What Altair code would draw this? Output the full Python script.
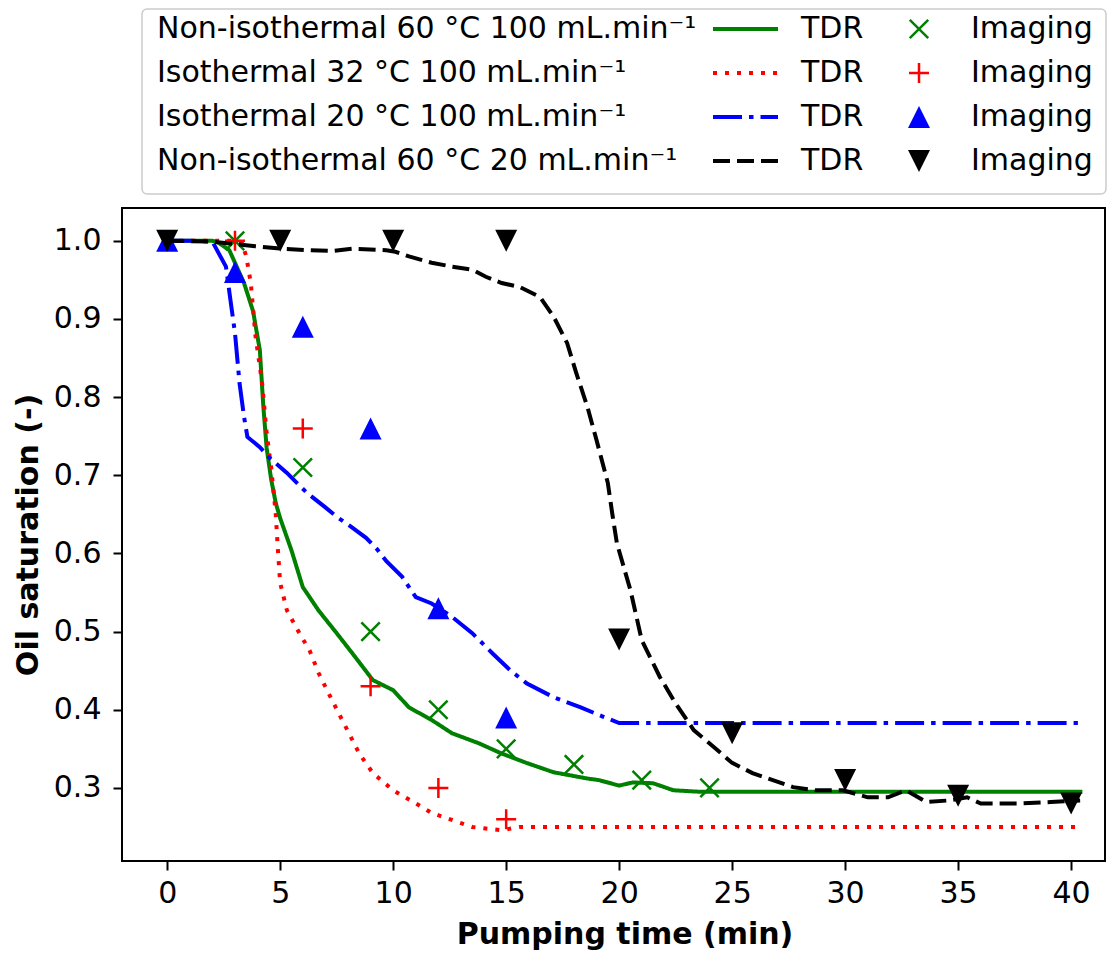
import altair as alt
import pandas as pd

# ---------------- data ----------------
series = [
    "Non-isothermal 60 °C 100 mL.min⁻¹",
    "Isothermal 32 °C 100 mL.min⁻¹",
    "Isothermal 20 °C 100 mL.min⁻¹",
    "Non-isothermal 60 °C 20 mL.min⁻¹",
]
colors = ["#008000", "#ff0000", "#0000ff", "#000000"]

# TDR curves
t_green = [0, 1, 2, 2.2, 2.75, 3.4, 3.8, 4.1, 4.25, 4.4, 4.6, 4.8, 5.0, 5.5, 6.0, 6.7, 7.5,
           8.2, 9.1, 10.0, 10.7, 11.7, 12.6, 13.8, 14.8, 15.9, 17.1, 18.6, 19.1, 20.0,
           20.6, 21.5, 22.4, 23.6, 30, 40.5]
v_green = [1.0, 1.0, 1.0, 0.999, 0.988, 0.946, 0.91, 0.86, 0.79, 0.735, 0.695, 0.665, 0.645,
           0.604, 0.557, 0.527, 0.498, 0.472, 0.438, 0.425, 0.403, 0.387, 0.37, 0.357,
           0.344, 0.332, 0.32, 0.312, 0.31, 0.303, 0.307, 0.306, 0.297, 0.295, 0.295, 0.295]

t_red = [0, 2, 3.0, 3.3, 3.5, 3.7, 3.9, 4.2, 4.4, 4.6, 4.8, 4.9, 5.0, 5.3, 5.85, 6.3, 6.7,
         7.3, 7.9, 8.5, 9.1, 10.0, 10.9, 11.7, 12.6, 13.5, 14.1, 14.8, 15.6, 20, 40.3]
v_red = [1.0, 1.0, 1.0, 0.998, 0.98, 0.946, 0.88, 0.818, 0.754, 0.71, 0.652, 0.604, 0.562,
         0.527, 0.498, 0.476, 0.447, 0.412, 0.378, 0.344, 0.319, 0.297, 0.282, 0.268,
         0.259, 0.25, 0.248, 0.246, 0.25, 0.25, 0.25]

t_blue = [0, 1, 2.0, 2.6, 2.8, 3.0, 3.2, 3.4, 3.55, 4.1, 4.5, 5.3, 6.2, 7.0, 7.5, 8.1, 8.8,
          9.3, 9.7, 10.4, 11.0, 11.7, 12.6, 13.5, 14.4, 15.2, 15.9, 17.1, 18.3, 19.3,
          20.0, 30, 40.3]
v_blue = [1.0, 1.0, 0.999, 0.967, 0.924, 0.882, 0.818, 0.775, 0.749, 0.736, 0.723, 0.703,
          0.677, 0.659, 0.647, 0.635, 0.62, 0.605, 0.59, 0.57, 0.544, 0.536, 0.519, 0.498,
          0.472, 0.45, 0.434, 0.416, 0.403, 0.391, 0.383, 0.383, 0.383]

t_black = [0, 2, 3.9, 5.0, 6.2, 7.3, 8.2, 9.7, 10.1, 10.7, 11.7, 12.6, 13.5, 14.1, 14.8,
           15.6, 16.5, 17.1, 17.7, 18.1, 18.6, 19.0, 19.5, 19.7, 19.9, 20.5, 21.0, 21.8,
           22.5, 23.3, 24.2, 25.0, 25.9, 26.8, 27.7, 28.7, 29.9, 31.0, 31.9, 32.7, 33.6,
           34.6, 35.4, 36.0, 37.6, 39.1, 40.4]
v_black = [1.0, 0.999, 0.993, 0.99, 0.988, 0.987, 0.99, 0.988, 0.986, 0.98, 0.972, 0.967,
           0.963, 0.954, 0.946, 0.941, 0.928, 0.903, 0.869, 0.831, 0.787, 0.745, 0.69,
           0.65, 0.613, 0.553, 0.489, 0.442, 0.408, 0.374, 0.352, 0.332, 0.319, 0.31,
           0.301, 0.297, 0.297, 0.288, 0.288, 0.297, 0.282, 0.284, 0.288, 0.28, 0.28,
           0.282, 0.284]

# Imaging points
ti_green = [3, 6, 9, 12, 15, 18, 21, 24]
vi_green = [1.0, 0.71, 0.50, 0.40, 0.35, 0.33, 0.31, 0.30]
ti_red = [3, 6, 9, 12, 15]
vi_red = [1.0, 0.76, 0.43, 0.30, 0.26]
ti_blue = [0, 3, 6, 9, 12, 15]
vi_blue = [1.0, 0.96, 0.89, 0.76, 0.53, 0.39]
ti_black = [0, 5, 10, 15, 20, 25, 30, 35, 40]
vi_black = [1.0, 1.0, 1.0, 1.0, 0.49, 0.37, 0.31, 0.29, 0.28]

x_ticks = [0, 5, 10, 15, 20, 25, 30, 35, 40]
y_ticks = [0.3, 0.4, 0.5, 0.6, 0.7, 0.8, 0.9, 1.0]

# ---------------- styles ----------------
W, H = 983, 653
FONT = "DejaVu Sans"
FS = 30
LW = 4
dashes = [[1, 0], [4, 8], [29, 7, 4.5, 7], [17, 7]]
shapes = [
    "M-1,-1L1,1M-1,1L1,-1",   # x
    "M-1,0L1,0M0,-1L0,1",     # +
    "M0,-1L1,1L-1,1Z",        # triangle up
    "M0,1L1,-1L-1,-1Z",       # triangle down
]
sizes = [340, 400, 484, 484]
filled = [False, False, True, True]

xscale = alt.Scale(domain=[-2.0, 41.5], nice=False, zero=False)
yscale = alt.Scale(domain=[0.2065, 1.042], nice=False, zero=False)

xaxis = alt.Axis(values=x_ticks, title="Pumping time (min)", grid=False, domain=False,
                 labelFontSize=FS, titleFontSize=FS, titleFontWeight="bold",
                 labelFont=FONT, titleFont=FONT, labelColor="black", titleColor="black",
                 tickSize=9, tickWidth=2, tickColor="black", labelPadding=23,
                 labelBaseline="middle", labelFlush=False, labelOverlap=False,
                 titleX=W / 2 + 11, titleY=73, titleBaseline="middle", titleAlign="center")
yaxis = alt.Axis(values=y_ticks, format=".1f", title="Oil saturation (-)", grid=False,
                 domain=False, labelFontSize=FS, titleFontSize=FS, titleFontWeight="bold",
                 labelFont=FONT, titleFont=FONT, labelColor="black", titleColor="black",
                 tickSize=9, tickWidth=2, tickColor="black", labelPadding=12,
                 labelFlush=False, labelOverlap=False,
                 titleX=-94, titleY=H / 2, titleAngle=-90, titleBaseline="middle",
                 titleAlign="center")

tdr = [(t_green, v_green), (t_red, v_red), (t_blue, v_blue), (t_black, v_black)]
img = [(ti_green, vi_green), (ti_red, vi_red), (ti_blue, vi_blue), (ti_black, vi_black)]


def point_style(k):
    pt = dict(shape=shapes[k], size=sizes[k], filled=filled[k], opacity=1)
    if filled[k]:
        pt.update(fill=colors[k], strokeWidth=0)
    else:
        pt.update(stroke=colors[k], strokeWidth=2.5)
    return pt


layers = []
for k in range(4):
    t, v = tdr[k]
    df = pd.DataFrame({"t": t, "v": v, "i": list(range(len(t)))})
    layers.append(
        alt.Chart(df).mark_line(color=colors[k], strokeWidth=LW, strokeDash=dashes[k])
        .encode(x=alt.X("t:Q", scale=xscale, axis=xaxis),
                y=alt.Y("v:Q", scale=yscale, axis=yaxis),
                order="i:Q")
    )
    ti, vi = img[k]
    dfi = pd.DataFrame({"t": ti, "v": vi})
    layers.append(
        alt.Chart(dfi).mark_point(**point_style(k))
        .encode(x=alt.X("t:Q", scale=xscale, axis=xaxis),
                y=alt.Y("v:Q", scale=yscale, axis=yaxis))
    )

# ---------------- legend (drawn above the plot area) ----------------
one = pd.DataFrame({"a": [0]})
legend_layers = [
    alt.Chart(one).mark_rect(fill="white", stroke="#cccccc", strokeWidth=1.5, cornerRadius=5)
    .encode(x=alt.value(20), x2=alt.value(984), y=alt.value(-199), y2=alt.value(-14))
]
row_y = [-179, -135, -91, -47]
for k in range(4):
    ry = row_y[k]
    legend_layers.append(
        alt.Chart(pd.DataFrame({"label": [series[k]]}))
        .mark_text(align="left", baseline="middle", font=FONT, fontSize=FS, color="black")
        .encode(text="label:N", x=alt.value(35), y=alt.value(ry))
    )
    legend_layers.append(
        alt.Chart(one).mark_rule(color=colors[k], strokeWidth=LW, strokeDash=dashes[k])
        .encode(x=alt.value(591), x2=alt.value(656), y=alt.value(ry))
    )
    legend_layers.append(
        alt.Chart(pd.DataFrame({"label": ["TDR"]}))
        .mark_text(align="left", baseline="middle", font=FONT, fontSize=FS, color="black")
        .encode(text="label:N", x=alt.value(679), y=alt.value(ry))
    )
    legend_layers.append(
        alt.Chart(one).mark_point(**point_style(k)).encode(x=alt.value(797), y=alt.value(ry))
    )
    legend_layers.append(
        alt.Chart(pd.DataFrame({"label": ["Imaging"]}))
        .mark_text(align="left", baseline="middle", font=FONT, fontSize=FS, color="black")
        .encode(text="label:N", x=alt.value(849), y=alt.value(ry))
    )

chart = (
    alt.layer(*layers, *legend_layers)
    .properties(width=W, height=H,
                autosize=alt.AutoSizeParams(type="none"),
                padding={"left": 114, "top": 200, "right": 5, "bottom": 95})
    .configure(font=FONT)
    .configure_view(stroke="black", strokeWidth=2)
)

chart.save("out.html", embed_options={"renderer": "svg", "actions": False})
